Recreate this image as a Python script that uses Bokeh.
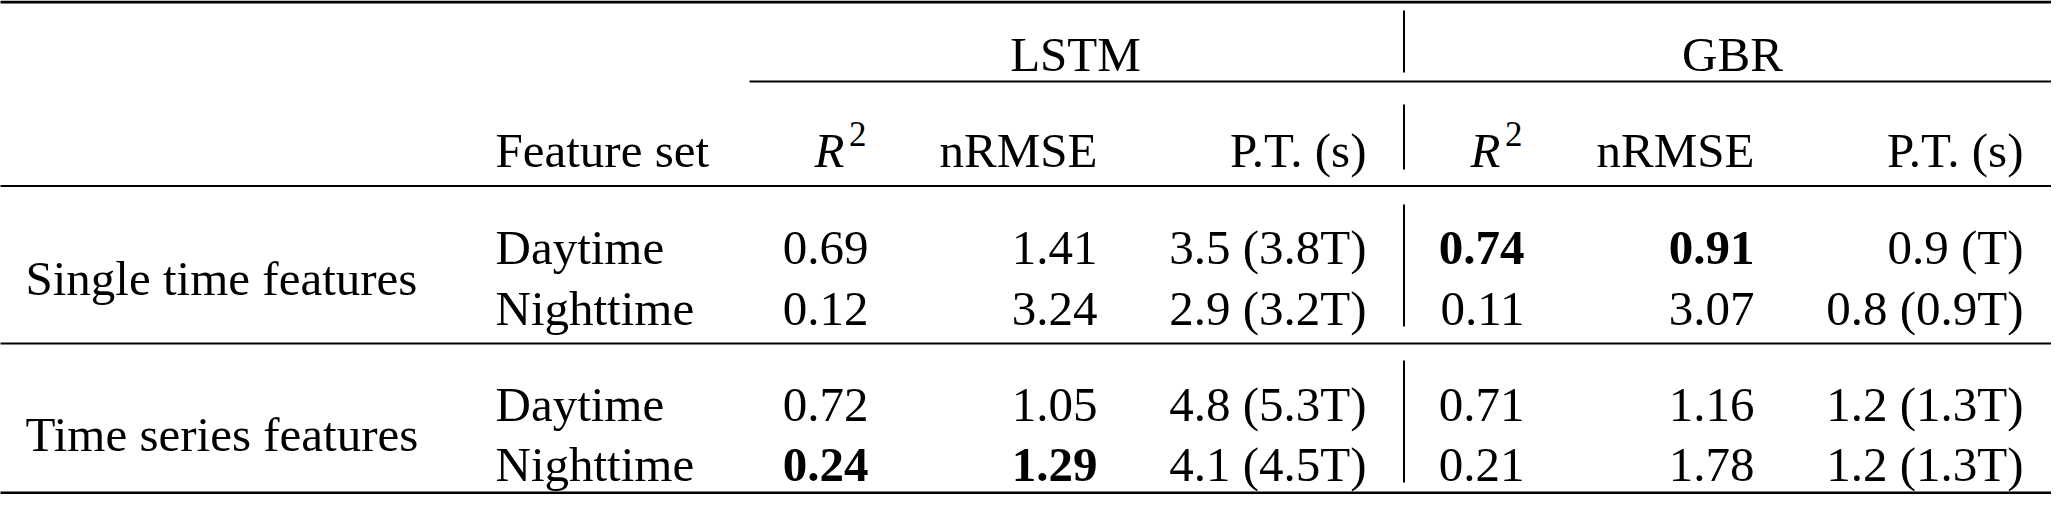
from bokeh.plotting import figure
from bokeh.models import ColumnDataSource, Range1d
from bokeh.core.properties import value
from bokeh.embed import file_html
from bokeh.resources import INLINE

# ---------------- data ----------------
models = ["LSTM", "GBR"]
metrics = ["R", "nRMSE", "P.T. (s)"]
groups = ["Single time features", "Time series features"]
feature_sets = ["Daytime", "Nighttime", "Daytime", "Nighttime"]

lstm_r2 = [0.69, 0.12, 0.72, 0.24]
lstm_nrmse = [1.41, 3.24, 1.05, 1.29]
lstm_pt_s = [3.5, 2.9, 4.8, 4.1]
lstm_pt_T = [3.8, 3.2, 5.3, 4.5]

gbr_r2 = [0.74, 0.11, 0.71, 0.21]
gbr_nrmse = [0.91, 3.07, 1.16, 1.78]
gbr_pt_s = [0.9, 0.8, 1.2, 1.2]
gbr_pt_T = [1.0, 0.9, 1.3, 1.3]

lstm_r2_best = [False, False, False, True]
lstm_nrmse_best = [False, False, False, True]
gbr_r2_best = [True, False, False, False]
gbr_nrmse_best = [True, False, False, False]

# ---------------- layout (reference pixel frame, 1:1 with the page) ----------------
W, H = 2051, 494
MARGIN = 8
FONT = "Liberation Serif"
FS = "49px"
SUP_FS = "35px"

row_base = [255, 316, 412, 472]
group_base = [286, 442]
head1_base = 62
head2_base = 158
sup_base = 141
group_left = 33
feat_left = 503
lstm_cols = [876, 1105, 1374]
gbr_cols = [1532, 1762, 2031]
model_centers = [1083, 1740]
vline_x = 1411.5
top_rule_y = 9.5
bottom_rule_y = 500.5
mid_rule_y = [193.5, 351]
cmid_y = 89
cmid_x0 = 757

p = figure(width=W, height=H,
           x_range=Range1d(MARGIN, MARGIN + W), y_range=Range1d(MARGIN + H, MARGIN),
           output_backend="svg", toolbar_location=None,
           x_axis_type=None, y_axis_type=None, min_border=0)
p.grid.visible = False
p.outline_line_color = None
p.background_fill_color = "white"
p.border_fill_color = "white"

INK = "#000000"
X0, X1 = 0, 2067

def txt(xs, ys, texts, align="left", style="normal", size=FS):
    src = ColumnDataSource(dict(x=list(xs), y=list(ys), t=list(texts),
                                s=list(style) if isinstance(style, list) else [style] * len(xs)))
    p.text(x="x", y="y", text="t", source=src, text_font=value(FONT),
           text_font_size=value(size), text_align=align, text_baseline="alphabetic",
           text_font_style="s", text_color=INK)

# horizontal rules
p.segment(x0=[X0, X0], y0=[top_rule_y, bottom_rule_y], x1=[X1, X1], y1=[top_rule_y, bottom_rule_y],
          line_width=3, line_color=INK)
p.segment(x0=[X0, X0], y0=mid_rule_y, x1=[X1, X1], y1=mid_rule_y, line_width=2, line_color=INK)
p.segment(x0=[cmid_x0], y0=[cmid_y], x1=[X1], y1=[cmid_y], line_width=2, line_color=INK)

# vertical separator segments
vy0 = [18, 112, 212, 368]
vy1 = [80, 177, 334, 490]
p.segment(x0=[vline_x] * 4, y0=vy0, x1=[vline_x] * 4, y1=vy1, line_width=2, line_color=INK)

# header row 1
txt(model_centers, [head1_base] * 2, models, align="center")

# header row 2
txt([feat_left], [head2_base], ["Feature set"])
for cols in (lstm_cols, gbr_cols):
    txt([cols[0] - 24], [head2_base], [metrics[0]], align="right", style="italic")
    txt([cols[0] - 2], [sup_base], ["2"], align="right", size=SUP_FS)
    txt(cols[1:], [head2_base] * 2, metrics[1:], align="right")

# group labels & feature sets
txt([group_left] * 2, group_base, groups)
txt([feat_left] * 4, row_base, feature_sets)

def fmt_pt(s, t):
    tt = "T" if abs(t - 1.0) < 1e-9 else f"{t:.1f}T"
    return f"{s:.1f} ({tt})"

def bold(flags):
    return ["bold" if f else "normal" for f in flags]

txt([lstm_cols[0]] * 4, row_base, [f"{v:.2f}" for v in lstm_r2], align="right", style=bold(lstm_r2_best))
txt([lstm_cols[1]] * 4, row_base, [f"{v:.2f}" for v in lstm_nrmse], align="right", style=bold(lstm_nrmse_best))
txt([lstm_cols[2]] * 4, row_base, [fmt_pt(s, t) for s, t in zip(lstm_pt_s, lstm_pt_T)], align="right")
txt([gbr_cols[0]] * 4, row_base, [f"{v:.2f}" for v in gbr_r2], align="right", style=bold(gbr_r2_best))
txt([gbr_cols[1]] * 4, row_base, [f"{v:.2f}" for v in gbr_nrmse], align="right", style=bold(gbr_nrmse_best))
txt([gbr_cols[2]] * 4, row_base, [fmt_pt(s, t) for s, t in zip(gbr_pt_s, gbr_pt_T)], align="right")

open("out.html", "w").write(file_html(p, INLINE))
